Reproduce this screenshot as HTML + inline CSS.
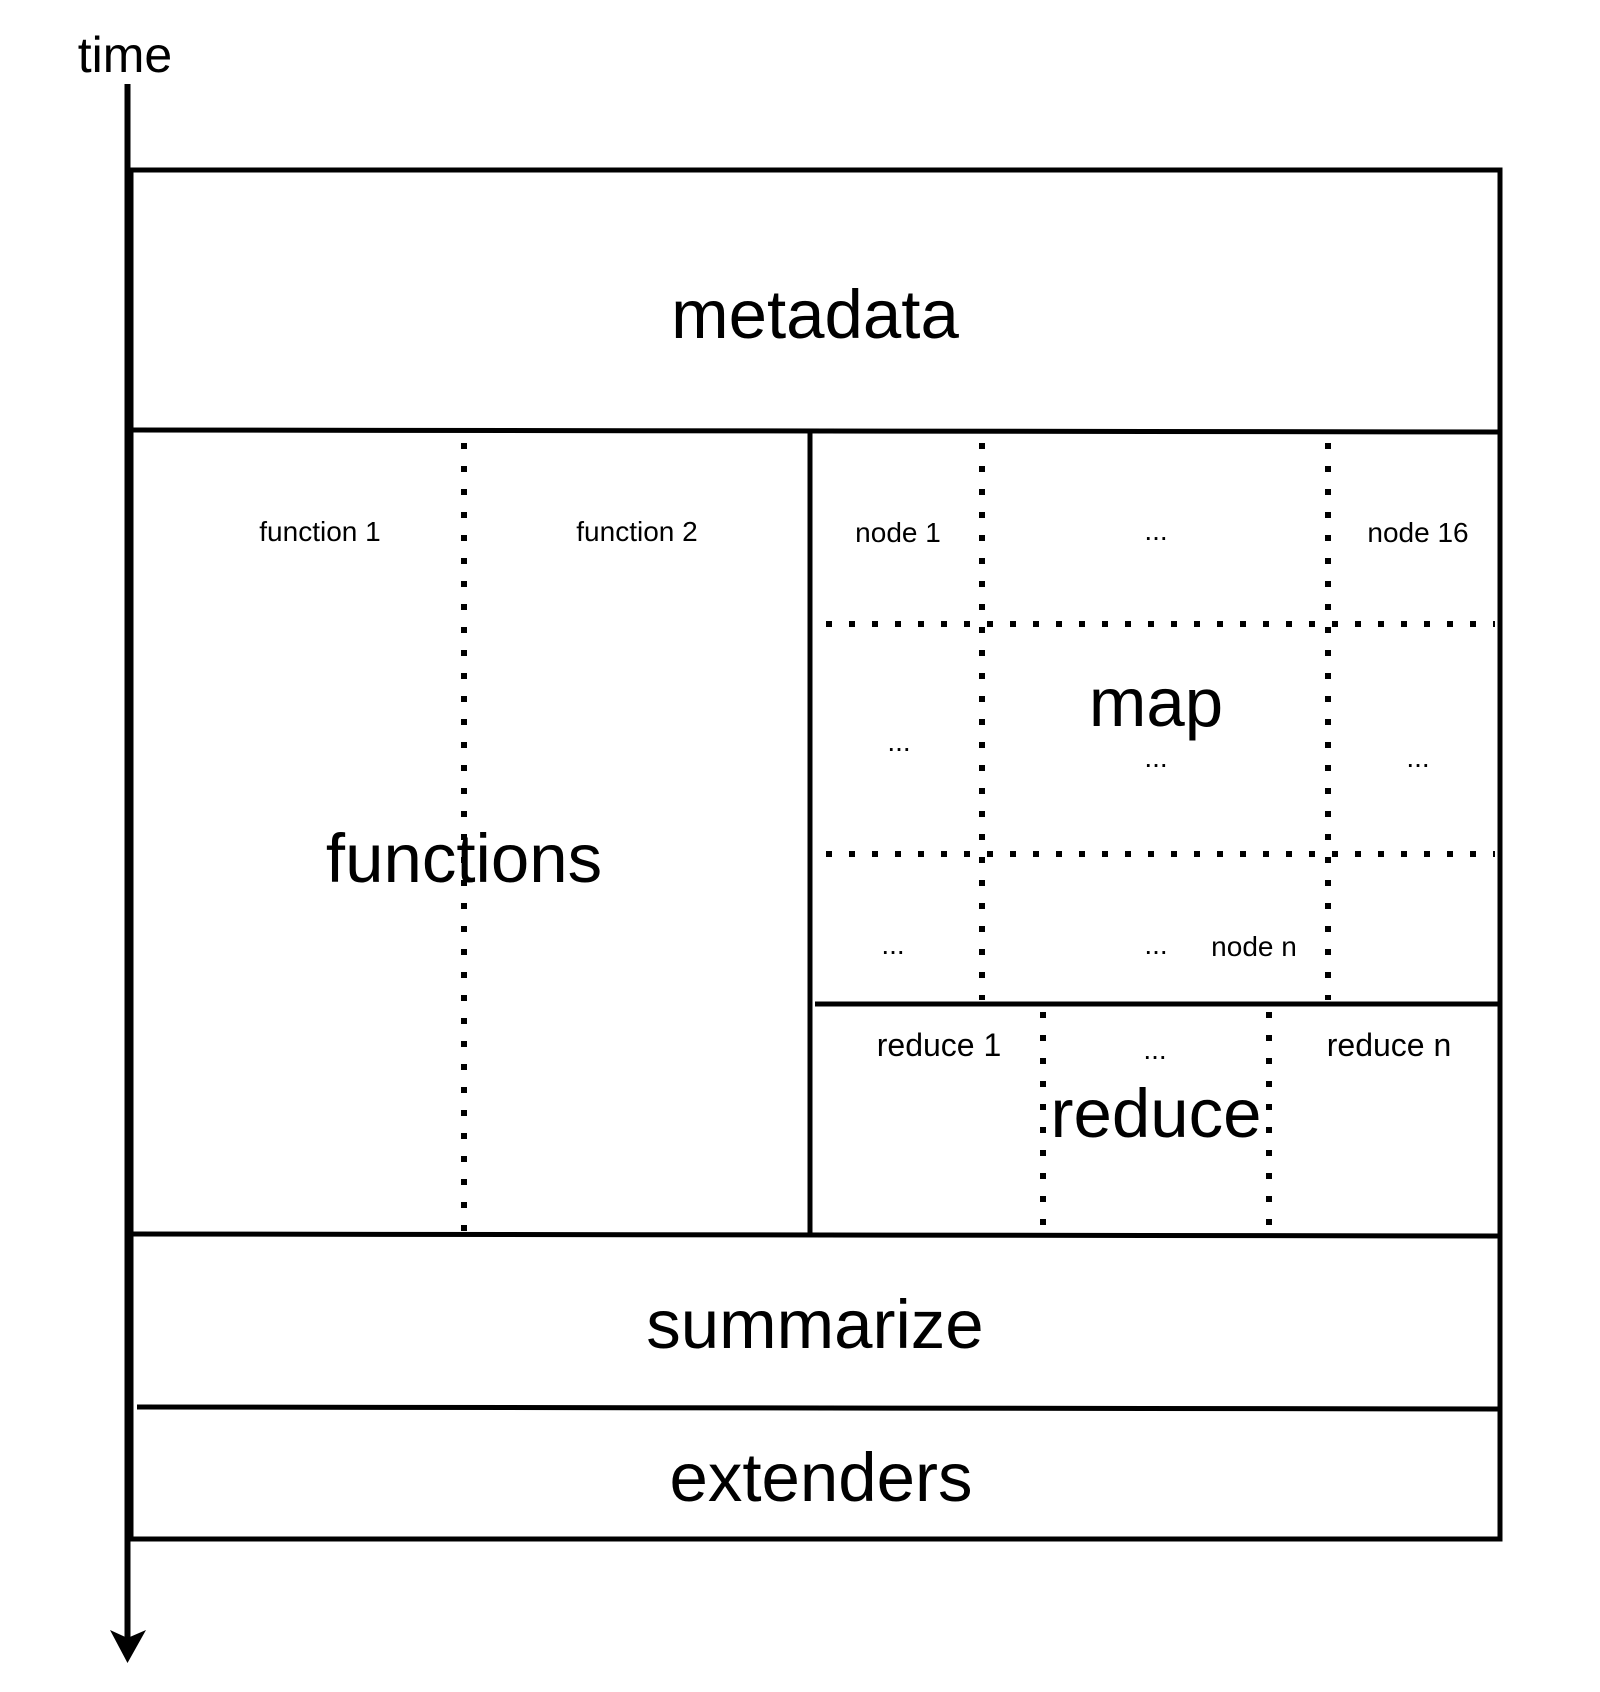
<!DOCTYPE html>
<html><head><meta charset="utf-8"><style>html,body{margin:0;padding:0;background:#fff}svg{display:block}</style></head>
<body>
<svg width="1600" height="1692" viewBox="0 0 1600 1692" xmlns="http://www.w3.org/2000/svg" font-family="Liberation Sans, Arial, sans-serif">
<rect width="1600" height="1692" fill="#fff"/>
<g stroke="#000" stroke-width="5" fill="none">
<rect x="131" y="170" width="1369" height="1369"/>
<line x1="131" y1="430" x2="1500" y2="432"/>
<line x1="810" y1="432" x2="810" y2="1234"/>
<line x1="815" y1="1004" x2="1500" y2="1004"/>
<line x1="131" y1="1234" x2="1500" y2="1236"/>
<line x1="137" y1="1407" x2="1500" y2="1409"/>
</g>
<line x1="127.5" y1="84" x2="127.5" y2="1640" stroke="#000" stroke-width="6"/>
<polygon points="110,1630 127.5,1638 146,1630 127.5,1663" fill="#000"/>
<g stroke="#000" stroke-width="6" stroke-dasharray="6 17" fill="none">
<line x1="464" y1="443" x2="464" y2="1232"/>
<line x1="982" y1="443" x2="982" y2="1000"/>
<line x1="1328" y1="443" x2="1328" y2="1000"/>
<line x1="826" y1="624" x2="1495" y2="624"/>
<line x1="826" y1="854" x2="1495" y2="854"/>
<line x1="1043" y1="1012" x2="1043" y2="1228"/>
<line x1="1269" y1="1012" x2="1269" y2="1228"/>
</g>
<g fill="#000" text-anchor="middle">
<text x="125" y="72" font-size="50">time</text>
<text x="815" y="338" font-size="69">metadata</text>
<text x="464" y="882" font-size="69">functions</text>
<text x="1156" y="726" font-size="69">map</text>
<text x="1156" y="1137" font-size="69">reduce</text>
<text x="815" y="1348" font-size="69">summarize</text>
<text x="821" y="1501" font-size="69">extenders</text>
<g font-size="28">
<text x="320" y="541">function 1</text>
<text x="637" y="541">function 2</text>
<text x="898" y="542">node 1</text>
<text x="1156" y="540">...</text>
<text x="1418" y="542">node 16</text>
<text x="899" y="751">...</text>
<text x="1156" y="767">...</text>
<text x="1418" y="767">...</text>
<text x="893" y="954">...</text>
<text x="1156" y="954">...</text>
<text x="1254" y="956">node n</text>
<text x="1155" y="1059">...</text>
</g>
<g font-size="32">
<text x="939" y="1056">reduce 1</text>
<text x="1389" y="1056">reduce n</text>
</g>
</g>
</svg>
</body></html>
